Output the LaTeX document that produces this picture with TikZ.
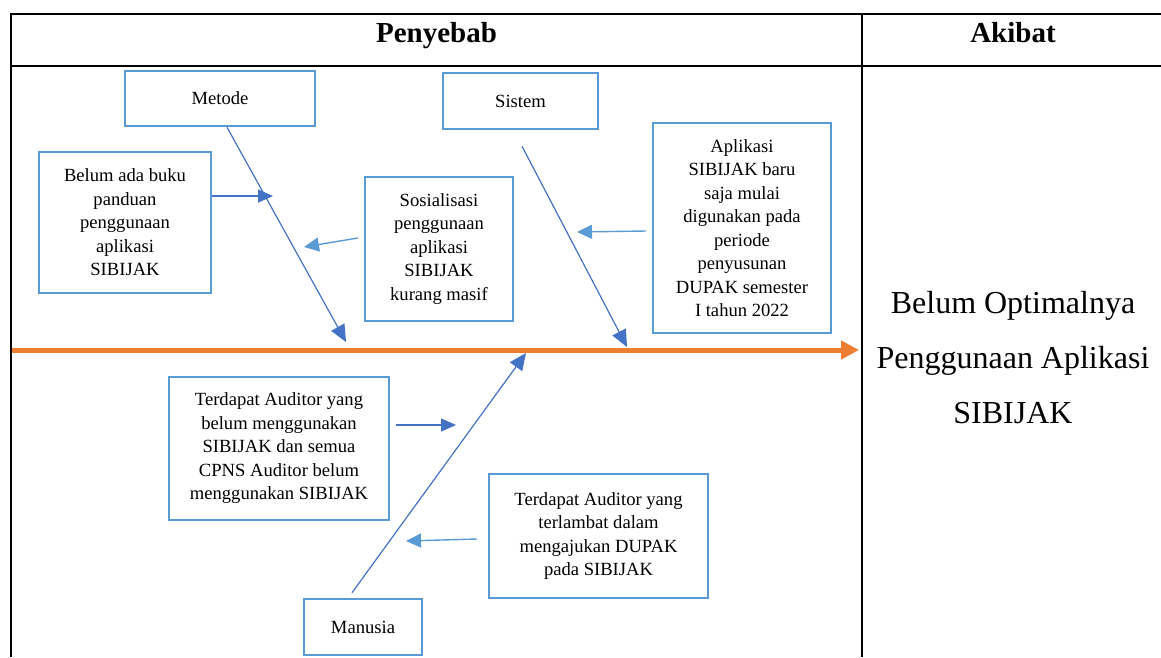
\documentclass[tikz,border=0pt]{standalone}
\usepackage{fontspec}
\setmainfont{Liberation Serif}
\usetikzlibrary{arrows.meta}
\definecolor{birumuda}{HTML}{5B9BD5}
\definecolor{birutua}{HTML}{4472C4}
\definecolor{jingga}{HTML}{ED7D31}
\tikzset{
  kotak/.style={draw=birumuda, line width=2.5pt, align=center, inner sep=2pt,
    font=\fontsize{18.6}{23.5}\selectfont},
  judul/.style={anchor=base, font=\bfseries\fontsize{29}{34}\selectfont},
  tulang/.style={draw=birutua, line width=1.2pt, -{Triangle[length=17pt,width=15pt]}},
  panahtua/.style={draw=birutua, line width=1.2pt, -{Triangle[length=15pt,width=13pt]}},
  panahmuda/.style={draw=birumuda, line width=1.4pt, -{Triangle[length=15pt,width=14pt]}},
  tabel/.style={line width=2pt, black}
}
\begin{document}
\begin{tikzpicture}[x=1pt,y=-1pt]
  \useasboundingbox (0,0) rectangle (1161,657);
  % tabel
  \draw[tabel] (11,14) -- (1161,14);
  \draw[tabel] (11,66) -- (1161,66);
  \draw[tabel] (11,13) -- (11,657);
  \draw[tabel] (862,13) -- (862,657);
  \node[judul] (penyebab) at (436.5,42) {Penyebab};
  \node[judul] (akibat) at (1013,42) {Akibat};
  \node[align=center, font=\fontsize{32}{55}\selectfont] (hasil) at (1013,358)
    {Belum Optimalnya\\Penggunaan Aplikasi\\SIBIJAK};
  % kotak penyebab
  \node[kotak, minimum width=190pt, minimum height=55pt] (metode) at (220,98.5) {Metode};
  \node[kotak, minimum width=155pt, minimum height=56pt] (sistem) at (520.5,101) {Sistem};
  \node[kotak, minimum width=118pt, minimum height=56pt] (manusia) at (363,627) {Manusia};
  \node[kotak, minimum width=172pt, minimum height=141pt] (buku) at (125,222.5)
    {Belum ada buku\\panduan\\penggunaan\\aplikasi\\SIBIJAK};
  \node[kotak, minimum width=148pt, minimum height=144pt] (sosial) at (439,249)
    {Sosialisasi\\penggunaan\\aplikasi\\SIBIJAK\\kurang masif};
  \node[kotak, minimum width=178pt, minimum height=210pt] (aplikasi) at (742,228)
    {Aplikasi\\SIBIJAK baru\\saja mulai\\digunakan pada\\periode\\penyusunan\\DUPAK semester\\I tahun 2022};
  \node[kotak, minimum width=220pt, minimum height=143pt] (auditA) at (279,448.5)
    {Terdapat Auditor yang\\belum menggunakan\\SIBIJAK dan semua\\CPNS Auditor belum\\menggunakan SIBIJAK};
  \node[kotak, minimum width=219pt, minimum height=124pt] (auditB) at (598.5,536)
    {Terdapat Auditor yang\\terlambat dalam\\mengajukan DUPAK\\pada SIBIJAK};
  % titik ujung
  \coordinate (ujungmetode) at (346,342);
  \coordinate (ujungsistem) at (627,347);
  \coordinate (ujungmanusia) at (526,353);
  \coordinate (ujungbuku) at (273,196);
  \coordinate (ujungsosial) at (304,247);
  \coordinate (ujungaplikasi) at (577,232);
  \coordinate (ujungauditA) at (456,425);
  \coordinate (ujungauditB) at (406,541);
  \coordinate (ekorspine) at (12,350);
  \coordinate (kepalaspine) at (859,350);
  % tulang utama
  \draw[jingga, line width=5pt, -{Triangle[length=18pt,width=18pt]}] (ekorspine) -- (kepalaspine);
  \draw[tulang] ([xshift=7pt]metode.south) -- (ujungmetode);
  \draw[tulang] ([xshift=1.5pt,yshift=-16pt]sistem.south) -- (ujungsistem);
  \draw[tulang] ([xshift=-11pt,yshift=5pt]manusia.north) -- (ujungmanusia);
  % panah sebab
  \draw[panahtua] ([yshift=26.5pt]buku.east) -- (ujungbuku);
  \draw[panahmuda] ([xshift=-6pt,yshift=11pt]sosial.west) -- (ujungsosial);
  \draw[panahmuda] ([xshift=-6pt,yshift=-3pt]aplikasi.west) -- (ujungaplikasi);
  \draw[panahtua] ([xshift=6pt,yshift=23.5pt]auditA.east) -- (ujungauditA);
  \draw[panahmuda] ([xshift=-11pt,yshift=-3pt]auditB.west) -- (ujungauditB);
\end{tikzpicture}
\end{document}
